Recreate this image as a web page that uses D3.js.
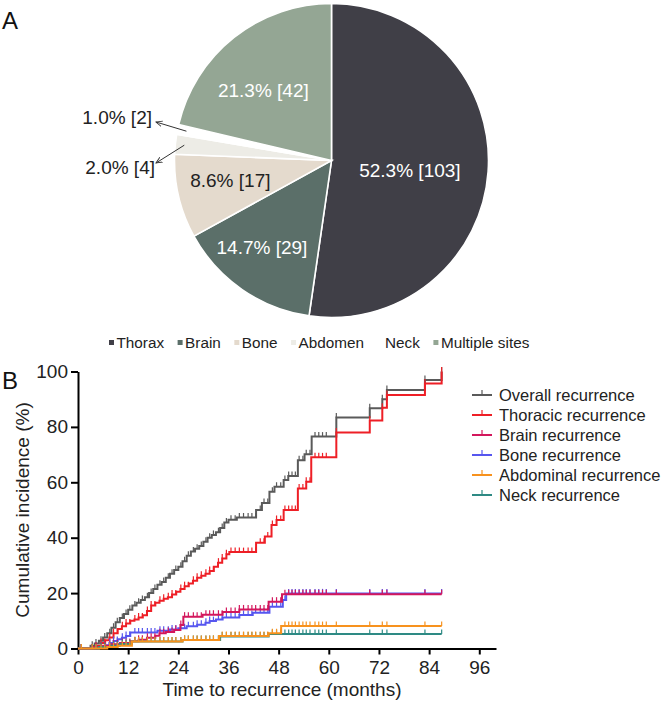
<!DOCTYPE html>
<html><head><meta charset="utf-8">
<script src="https://cdn.jsdelivr.net/npm/d3@7"></script>
<style>body{margin:0;background:#fff}text{font-family:"Liberation Sans",Arial,Helvetica,sans-serif}</style>
</head><body><svg id="c" width="664" height="704"></svg>
<script>
// ---------- Panel A data ----------
const siteNames = ["Thorax","Brain","Bone","Abdomen","Neck","Multiple sites"];
const siteCounts = [103,29,17,4,2,42];
const sitePercents = ["52.3%","14.7%","8.6%","2.0%","1.0%","21.3%"];
const siteColors = ["#403f47","#5b6f69","#e4dacd","#edece6","#ffffff","#94a694"];

// ---------- Panel B data ----------
const xTicks = [0,12,24,36,48,60,72,84,96];
const yTicks = [0,20,40,60,80,100];
const seriesNames = ["Overall recurrence","Thoracic recurrence","Brain recurrence","Bone recurrence","Abdominal recurrence","Neck recurrence"];
const seriesColors = ["#5a5a5a","#ee1f26","#d3175c","#5656ef","#f7921e","#2e8a84"];
const followUpEnd = 87;
const overall = [[0,0],[3,1],[4,1.8],[5,2.8],[6,4],[7,5.5],[8,7.5],[9,9.5],[10,11],[11,12.5],[12,14],[13,15.5],[14,16.5],[15,17.5],[16,18.5],[17,20],[18,21.5],[19,23],[20,24],[21,25.5],[22,27],[23,28.3],[24,29.5],[25,31.5],[26,33.5],[27,35],[28,36],[29,37],[30,38.5],[31,40],[32,41],[33,42],[34,43.5],[35,45.5],[36,46.5],[38,47.3],[42.6,50],[44,52.5],[45.8,56.6],[47,58.4],[49.2,60.8],[50.3,62.3],[52.6,68],[54.2,70.1],[55.9,76.5],[61.8,83.4],[69.8,86.7],[72.8,90],[73.9,93.3],[83,96.9],[87,100]];
const thoracic = [[0,0],[3.5,0.5],[4.5,1],[5.5,2],[6.5,3],[7.5,4],[8.5,5.5],[9.5,7],[10.5,8],[11.5,9],[12.5,10],[13.5,10.5],[14.5,11.2],[15.5,12],[16.5,13.5],[17.5,15.5],[18.5,16.5],[19.5,17.2],[20.5,18],[21.5,18.5],[22.5,19.5],[23.5,20.5],[24.5,21.5],[25.5,22.5],[26.5,23.5],[27.5,24.5],[28.5,25.5],[29.5,26.3],[30.5,27],[31.5,28],[32.5,29.5],[33.5,31],[34.5,32.5],[35.5,34],[36.2,34.8],[42.6,38.2],[44.7,40.4],[46.3,44.6],[47.5,46.4],[49.2,50],[52.6,57.8],[54.6,60.2],[55.8,69],[61.8,78],[69.8,82.3],[72.8,86.9],[73.9,91.5],[83,95.7],[87,100]];
const brain = [[0,0],[4,0.5],[6,1],[8,1.5],[10,2],[12.5,2.6],[14.5,3.2],[16.5,3.9],[18.5,4.6],[19.5,5.5],[21,6],[23,6.7],[24.5,8.5],[25.2,11.5],[29.8,12.2],[34.6,13.2],[38.6,14.1],[45.6,16.9],[48.8,19.6]];
const bone = [[0,0],[5,0.5],[6.5,1.2],[7.5,2],[8.5,2.7],[9.5,3.3],[10.5,3.9],[11.5,4.5],[12.5,5.8],[19,6.4],[22,6.9],[24,7.3],[26,8],[28.5,8.6],[30.5,9.3],[31.5,9.9],[33,10.5],[34.6,11.2],[38.6,12.1],[41.8,12.9],[45.8,15.1],[49,17.5],[49.8,19.9]];
const abdominal = [[0,0],[7,0.5],[9.5,1],[12.9,2.5],[25,3.1],[33.8,4.5],[45.6,5.5],[48.6,8.1]];
const neck = [[0,0],[5,0.5],[8,1],[10,1.6],[12.9,2.5],[25,3.1],[34,4.3],[45.6,5.2]];
const censorTimes = [0.8,3.4,4.3,5.5,6.4,7.6,8.5,9.4,10.6,11.5,12.4,13.6,14.5,15.4,16.6,17.5,18.4,19.6,20.5,21.6,22.5,23.4,24.6,25.5,26.4,27.6,28.5,29.5,30.6,31.5,32.4,33.6,34.5,35.5,36.6,37.6,38.6,39.6,40.7,41.6,42.5,43.6,44.5,45.4,46.5,47.5,48.5,49.5,50.4,51.2,52.0,52.9,53.8,54.6,55.5,56.7,57.6,58.5,59.4,61.8,69.8,72.8,73.9,83.0,87.0];

const svg = d3.select("#c");
svg.append("rect").attr("width",664).attr("height",704).attr("fill","#fff");

// ================= Panel A =================
svg.append("text").attr("x",2).attr("y",29).attr("font-size",24).attr("fill","#111").text("A");
const cx = 331.5, cy = 160.5, R = 157;
const pieG = svg.append("g").attr("transform",`translate(${cx},${cy})`);
const pie = d3.pie().sort(null).value(d=>d);
const arcs = pie(siteCounts);
const arc = d3.arc().innerRadius(0).outerRadius(R);
pieG.selectAll("path").data(arcs).join("path")
  .attr("d",arc).attr("fill",(d,i)=>siteColors[i])
  .attr("stroke","#fff").attr("stroke-width",1.6);

// label placement (radius, angular shift in degrees) per slice
const labelRadius = [79,111,103,0,0,98];
const labelShift = [2.8,4.1,2.4,0,0,-5.7];
const labelFill = ["#fff","#fff","#222","#222","#222","#fff"];
arcs.forEach((a,i)=>{
  const txt = `${sitePercents[i]} [${siteCounts[i]}]`;
  if (labelRadius[i] > 0) {
    const ang = (a.startAngle + a.endAngle)/2 + labelShift[i]*Math.PI/180;
    const px = labelRadius[i]*Math.sin(ang), py = -labelRadius[i]*Math.cos(ang);
    pieG.append("text").attr("x",px).attr("y",py).attr("dy","0.36em")
      .attr("text-anchor","middle").attr("font-size",19).attr("fill",labelFill[i]).text(txt);
  }
});
// outside labels for the two small slices
const defs = svg.append("defs");
defs.append("marker").attr("id","ah").attr("viewBox","0 0 10 10").attr("refX",9).attr("refY",5)
  .attr("markerWidth",7).attr("markerHeight",7).attr("orient","auto-start-reverse")
  .append("path").attr("d","M0,1 L9,5 L0,9").attr("fill","none").attr("stroke","#333").attr("stroke-width",1.3);
const outside = [{i:4, lx:152, ly:124, ax:156, ay:122}, {i:3, lx:155, ly:174, ax:156, ay:163}];
outside.forEach(o=>{
  const a = arcs[o.i];
  const s = d3.arc().innerRadius(R-9).outerRadius(R-9).centroid(a);
  svg.append("line").attr("x1",cx+s[0]).attr("y1",cy+s[1]).attr("x2",o.ax).attr("y2",o.ay)
    .attr("stroke","#333").attr("stroke-width",1).attr("marker-end","url(#ah)");
  svg.append("text").attr("x",o.lx).attr("y",o.ly).attr("text-anchor","end")
    .attr("font-size",19).attr("fill","#222").text(`${sitePercents[o.i]} [${siteCounts[o.i]}]`);
});
// legend A
let lx = 109;
const legA = svg.append("g");
siteNames.forEach((n,i)=>{
  legA.append("rect").attr("x",lx).attr("y",340).attr("width",5).attr("height",5).attr("fill",siteColors[i]);
  const t = legA.append("text").attr("x",lx+7.5).attr("y",347.5).attr("font-size",15.3).attr("fill","#222").text(n);
  lx += 7.5 + t.node().getComputedTextLength() + 13.5;
});

// ================= Panel B =================
svg.append("text").attr("x",2).attr("y",389).attr("font-size",24).attr("fill","#111").text("B");
const x = d3.scaleLinear().domain([0,100]).range([78,496]);
const y = d3.scaleLinear().domain([0,100]).range([648.5,371.5]);

const gx = svg.append("g").attr("transform",`translate(0,${y(0)})`)
  .call(d3.axisBottom(x).tickValues(xTicks).tickSize(6).tickSizeOuter(0).tickPadding(6));
const gy = svg.append("g").attr("transform",`translate(${x(0)},0)`)
  .call(d3.axisLeft(y).tickValues(yTicks).tickSize(7).tickSizeOuter(0).tickPadding(3));
[gx,gy].forEach(g=>{
  g.select(".domain").attr("stroke","#000").attr("stroke-width",2);
  g.selectAll(".tick line").attr("stroke","#000").attr("stroke-width",2);
  g.selectAll(".tick text").attr("font-size",19).attr("fill","#222")
    .attr("font-family",'"Liberation Sans",Arial,sans-serif');
});
svg.append("text").attr("x",282).attr("y",696).attr("text-anchor","middle").attr("font-size",19).attr("fill","#222")
  .text("Time to recurrence (months)");
svg.append("text").attr("transform",`translate(29,${(y(0)+y(100))/2}) rotate(-90)`).attr("text-anchor","middle")
  .attr("font-size",19).attr("fill","#222").text("Cumulative incidence (%)");

const seriesData = [overall, thoracic, brain, bone, abdominal, neck];
const drawOrder = [0,1,3,2,5,4];
const line = d3.line().x(d=>x(d[0])).y(d=>y(d[1])).curve(d3.curveStepAfter);
const bis = d3.bisector(d=>d[0]).right;
const valueAt = (s,t)=> s[Math.max(0,bis(s,t)-1)][1];
drawOrder.forEach(i=>{
  const s = seriesData[i];
  const pts = s.concat([[followUpEnd, s[s.length-1][1]]]);
  const g = svg.append("g");
  g.append("path").attr("d",line(pts)).attr("fill","none").attr("stroke",seriesColors[i]).attr("stroke-width",2);
  g.selectAll("line").data(censorTimes.filter(t=>t<=followUpEnd)).join("line")
    .attr("x1",t=>x(t)).attr("x2",t=>x(t))
    .attr("y1",t=>y(valueAt(s,t))).attr("y2",t=>y(valueAt(s,t))-4.5)
    .attr("stroke",seriesColors[i]).attr("stroke-width",1.2);
});

// legend B
seriesNames.forEach((n,i)=>{
  const yy = 395 + i*20;
  svg.append("line").attr("x1",472).attr("x2",492).attr("y1",yy).attr("y2",yy).attr("stroke",seriesColors[i]).attr("stroke-width",2);
  svg.append("line").attr("x1",482).attr("x2",482).attr("y1",yy).attr("y2",yy-5).attr("stroke",seriesColors[i]).attr("stroke-width",1.2);
  svg.append("text").attr("x",499).attr("y",yy+6).attr("font-size",16.5).attr("fill","#222").text(n);
});
</script></body></html>
